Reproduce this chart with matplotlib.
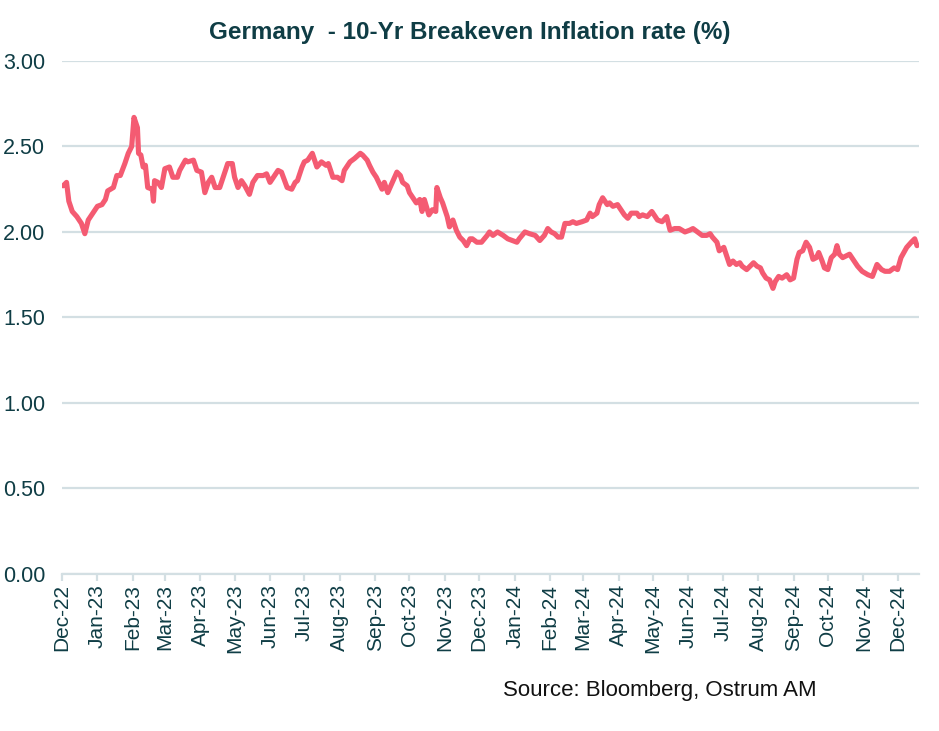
import matplotlib
matplotlib.use('Agg')
import matplotlib.pyplot as plt
import matplotlib.dates as mdates
import pandas as pd

plt.rcParams['font.family'] = ['Liberation Sans', 'DejaVu Sans']

# data: days since 2022-12-01 and breakeven rate (%)
start = pd.Timestamp('2022-12-01')
end = pd.Timestamp('2024-12-20')
days = [1, 4, 6, 9, 13, 17, 20, 23, 26, 31, 35, 38, 40, 45, 48, 51, 55, 58, 61, 63,
        66, 67, 69, 71, 73, 75, 79, 80, 81, 84, 87, 90, 94, 97, 101, 103, 108, 110, 115, 118,
        122, 125, 128, 131, 134, 138, 141, 145, 149, 151, 154, 157, 160, 164, 167, 171, 176, 179, 182, 185,
        189, 192, 197, 201, 204, 206, 210, 212, 215, 219, 223, 227, 231, 233, 237, 241, 245, 247, 252, 256,
        261, 263, 267, 269, 272, 275, 280, 282, 285, 289, 293, 296, 298, 302, 304, 307, 310, 313, 315, 317,
        321, 324, 327, 328, 331, 333, 337, 339, 342, 345, 348, 351, 354, 357, 359, 363, 367, 372, 374, 377,
        381, 386, 390, 394, 398, 400, 405, 409, 414, 418, 422, 425, 428, 431, 434, 437, 440, 444, 447, 450,
        455, 459, 462, 464, 468, 470, 473, 477, 479, 482, 486, 490, 492, 495, 498, 503, 505, 508, 512, 516,
        519, 521, 525, 529, 532, 536, 540, 545, 549, 552, 556, 560, 564, 567, 569, 573, 575, 579, 582, 584,
        587, 590, 593, 595, 599, 602, 605, 608, 611, 613, 616, 619, 622, 624, 627, 630, 634, 637, 640, 643,
        645, 648, 651, 654, 657, 660, 662, 665, 667, 670, 673, 676, 678, 680, 683, 689, 692, 696, 700, 705,
        709, 713, 717, 720, 724, 728, 731, 734, 739, 743, 746, 748]
rate = [2.27, 2.29, 2.18, 2.12, 2.09, 2.05, 1.99, 2.07, 2.10, 2.15, 2.16, 2.19, 2.24, 2.26, 2.33, 2.33, 2.40, 2.46, 2.50, 2.67,
        2.61, 2.46, 2.45, 2.38, 2.39, 2.26, 2.25, 2.18, 2.30, 2.29, 2.26, 2.37, 2.38, 2.32, 2.32, 2.36, 2.42, 2.41, 2.42, 2.36,
        2.35, 2.23, 2.29, 2.32, 2.26, 2.26, 2.32, 2.40, 2.40, 2.32, 2.26, 2.30, 2.27, 2.22, 2.29, 2.33, 2.33, 2.34, 2.29, 2.32,
        2.36, 2.35, 2.26, 2.25, 2.29, 2.30, 2.38, 2.41, 2.42, 2.46, 2.38, 2.41, 2.39, 2.40, 2.32, 2.32, 2.30, 2.36, 2.41, 2.43,
        2.46, 2.45, 2.42, 2.39, 2.35, 2.32, 2.25, 2.29, 2.23, 2.29, 2.35, 2.33, 2.29, 2.27, 2.23, 2.20, 2.17, 2.19, 2.12, 2.19,
        2.10, 2.13, 2.12, 2.26, 2.20, 2.17, 2.09, 2.03, 2.07, 2.01, 1.97, 1.95, 1.92, 1.96, 1.96, 1.94, 1.94, 1.98, 2.00, 1.98,
        2.00, 1.98, 1.96, 1.95, 1.94, 1.96, 2.00, 1.99, 1.98, 1.95, 1.98, 2.02, 2.00, 1.99, 1.97, 1.97, 2.05, 2.05, 2.06, 2.05,
        2.06, 2.07, 2.11, 2.09, 2.11, 2.16, 2.20, 2.16, 2.17, 2.15, 2.16, 2.12, 2.10, 2.08, 2.11, 2.11, 2.09, 2.10, 2.09, 2.12,
        2.09, 2.07, 2.06, 2.09, 2.01, 2.02, 2.02, 2.00, 2.01, 2.02, 2.00, 1.98, 1.98, 1.99, 1.97, 1.94, 1.89, 1.91, 1.85, 1.81,
        1.83, 1.81, 1.82, 1.80, 1.78, 1.80, 1.82, 1.80, 1.79, 1.76, 1.73, 1.72, 1.67, 1.71, 1.74, 1.73, 1.75, 1.72, 1.73, 1.84,
        1.88, 1.89, 1.94, 1.91, 1.84, 1.85, 1.88, 1.83, 1.79, 1.78, 1.85, 1.87, 1.92, 1.87, 1.85, 1.87, 1.84, 1.80, 1.77, 1.75,
        1.74, 1.81, 1.78, 1.77, 1.77, 1.79, 1.78, 1.85, 1.91, 1.94, 1.96, 1.92]
y_ticks = [0.0, 0.5, 1.0, 1.5, 2.0, 2.5, 3.0]

dates = start + pd.to_timedelta(days, unit='D')

text_col = '#0f3d45'
grid_col = '#d3dfe3'
line_col = '#f45b72'

fig = plt.figure(figsize=(9.39, 7.31), dpi=100)
ax = fig.add_axes([0.066, 0.2148, 0.913, 0.7018])

ax.plot(dates, rate, color=line_col, linewidth=3.7, solid_joinstyle='round',
        solid_capstyle='round', zorder=3)

ax.set_ylim(0, 3)
ax.set_xlim(start, end)
ax.set_yticks(y_ticks)
ax.set_yticklabels([f'{v:.2f}' for v in y_ticks])
ax.yaxis.grid(True, color=grid_col, linewidth=1.6)
ax.set_axisbelow(True)

ax.xaxis.set_major_locator(mdates.MonthLocator())
ax.xaxis.set_major_formatter(mdates.DateFormatter('%b-%y'))
for lbl in ax.get_xticklabels():
    lbl.set_rotation(90)

for s in ['top', 'right', 'left']:
    ax.spines[s].set_visible(False)
ax.spines['bottom'].set_color(grid_col)
ax.spines['bottom'].set_linewidth(1.6)

ax.tick_params(axis='y', length=0, pad=12, labelsize=15.5, labelcolor=text_col)
ax.tick_params(axis='x', length=5, width=1.6, color=grid_col, pad=2, labelsize=15, labelcolor=text_col)

fig.text(0.5, 0.956, 'Germany  - 10-Yr Breakeven Inflation rate (%)', ha='center', va='center',
         fontsize=17.5, fontweight='bold', color=text_col)
fig.text(0.536, 0.056, 'Source: Bloomberg, Ostrum AM', ha='left', va='center', fontsize=16, color='#111111')

fig.savefig('out.png', dpi=100)
